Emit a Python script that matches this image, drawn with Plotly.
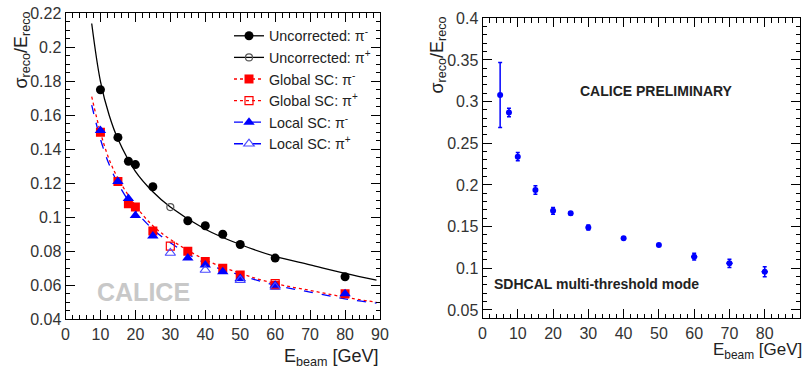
import plotly.graph_objects as go

# ---------------- Left panel data ----------------
unc_m_E = [10, 15, 18, 20, 25, 35, 40, 45, 50, 60, 80]
unc_m_R = [0.175, 0.147, 0.133, 0.131, 0.118, 0.098, 0.095, 0.090, 0.084, 0.076, 0.065]
unc_p_E = [30]
unc_p_R = [0.106]
glo_m_E = [10, 15, 18, 20, 25, 35, 40, 45, 50, 60, 80]
glo_m_R = [0.150, 0.121, 0.108, 0.106, 0.092, 0.080, 0.074, 0.070, 0.066, 0.060, 0.055]
glo_p_E = [30, 60]
glo_p_R = [0.083, 0.061]
loc_m_E = [10, 15, 18, 20, 25, 35, 40, 45, 50, 60, 80]
loc_m_R = [0.151, 0.121, 0.111, 0.101, 0.089, 0.076, 0.072, 0.068, 0.064, 0.060, 0.055]
loc_p_E = [30, 40, 50, 60]
loc_p_R = [0.079, 0.069, 0.063, 0.059]

fit_E = [7.5, 10, 12.5, 15, 20, 25, 30, 40, 50, 60, 70, 80, 89]
fit_unc = [0.214, 0.180, 0.160, 0.146, 0.127, 0.115, 0.106, 0.093, 0.084, 0.077, 0.072, 0.067, 0.063]
fit_glo = [0.171, 0.150, 0.134, 0.123, 0.107, 0.095, 0.087, 0.075, 0.067, 0.061, 0.057, 0.053, 0.050]
fit_loc = [0.166, 0.146, 0.131, 0.120, 0.104, 0.093, 0.085, 0.073, 0.066, 0.060, 0.056, 0.052, 0.0495]

legend_names = ["Uncorrected: π<sup>-</sup>", "Uncorrected: π<sup>+</sup>",
                "Global SC: π<sup>-</sup>", "Global SC: π<sup>+</sup>",
                "Local SC: π<sup>-</sup>", "Local SC: π<sup>+</sup>"]

# ---------------- Right panel data ----------------
sd_E = [5, 7.5, 10, 15, 20, 25, 30, 40, 50, 60, 70, 80]
sd_R = [0.308, 0.287, 0.234, 0.194, 0.169, 0.166, 0.149, 0.136, 0.128, 0.114, 0.106, 0.096]
sd_err = [0.039, 0.005, 0.005, 0.005, 0.004, 0.002, 0.003, 0.001, 0.001, 0.004, 0.005, 0.006]
sd_xerr = [0, 0, 0, 0, 0, 0, 0, 0, 0, 0.9, 0.9, 0.9]

FONT = "Liberation Sans Narrow, Arial Narrow, Liberation Sans, Arial"
TXT = "#222222"

series = [
    (unc_m_E, unc_m_R, dict(color="black", width=1.3), dict(symbol="circle", size=9, color="black")),
    (unc_p_E, unc_p_R, dict(color="black", width=1.3), dict(symbol="circle-open", size=7, color="#555555", line=dict(width=1.2))),
    (glo_m_E, glo_m_R, dict(color="red", width=1.3, dash="dot"), dict(symbol="square", size=9, color="red")),
    (glo_p_E, glo_p_R, dict(color="red", width=1.3, dash="dot"), dict(symbol="square-open", size=8, color="red", line=dict(width=1.2))),
    (loc_m_E, loc_m_R, dict(color="blue", width=1.3, dash="dash"), dict(symbol="triangle-up", size=10, color="blue")),
    (loc_p_E, loc_p_R, dict(color="blue", width=1.3, dash="dash"), dict(symbol="triangle-up-open", size=9, color="#4a4aff", line=dict(width=1.2))),
]

fig = go.Figure()

# fit curves
fig.add_trace(go.Scatter(x=fit_E, y=fit_unc, mode="lines", line=dict(color="black", width=1.3, shape="spline"),
                         showlegend=False, xaxis="x", yaxis="y"))
fig.add_trace(go.Scatter(x=fit_E, y=fit_glo, mode="lines", line=dict(color="red", width=1.3, dash="dot", shape="spline"),
                         showlegend=False, xaxis="x", yaxis="y"))
fig.add_trace(go.Scatter(x=fit_E, y=fit_loc, mode="lines", line=dict(color="blue", width=1.3, dash="dash", shape="spline"),
                         showlegend=False, xaxis="x", yaxis="y"))

# markers on plot
for xs, ys, ln, mk in series:
    fig.add_trace(go.Scatter(x=xs, y=ys, mode="markers", marker=mk, showlegend=False, xaxis="x", yaxis="y"))

# legend entries (line + marker sample)
for name, (xs, ys, ln, mk) in zip(legend_names, series):
    fig.add_trace(go.Scatter(x=[None], y=[None], mode="lines+markers", name=name, line=ln, marker=mk,
                             xaxis="x", yaxis="y"))

# right panel
fig.add_trace(go.Scatter(x=sd_E, y=sd_R, mode="markers", showlegend=False, xaxis="x2", yaxis="y2",
                         marker=dict(symbol="circle", size=6, color="blue"),
                         error_y=dict(type="data", array=sd_err, color="blue", thickness=1.5, width=2),
                         error_x=dict(type="data", array=sd_xerr, color="blue", thickness=1.5, width=0)))

axis_common = dict(showline=True, linecolor="black", linewidth=1, mirror="ticks", ticks="inside",
                   ticklen=9, tickcolor="black", tickwidth=1, showgrid=False, zeroline=False,
                   automargin=False,
                   tickfont=dict(family=FONT, size=16, color="#333333"))

fig.update_layout(
    width=804, height=374, margin=dict(l=0, r=0, t=0, b=0, autoexpand=False),
    paper_bgcolor="white", plot_bgcolor="white",
    font=dict(family=FONT),
    xaxis=dict(domain=[65.5/804, 380/804], range=[0, 90], dtick=10, tick0=0,
               minor=dict(dtick=2, ticks="inside", ticklen=4.5, tickcolor="black", showgrid=False),
               anchor="y", **axis_common),
    yaxis=dict(domain=[1-319.3/374, 1-13.3/374], range=[0.04, 0.22], dtick=0.02, tick0=0,
               tickformat="~g",
               minor=dict(dtick=0.005, ticks="inside", ticklen=4.5, tickcolor="black", showgrid=False),
               anchor="x", **axis_common),
    xaxis2=dict(domain=[482.5/804, 800/804], range=[0, 90], dtick=10, tick0=0,
                minor=dict(dtick=2, ticks="inside", ticklen=4.5, tickcolor="black", showgrid=False),
                anchor="y2", **axis_common),
    yaxis2=dict(domain=[1-318.3/374, 1-18.3/374], range=[0.04, 0.40], dtick=0.05, tick0=0,
                tickformat="~g",
                minor=dict(dtick=0.01, ticks="inside", ticklen=4.5, tickcolor="black", showgrid=False),
                anchor="x2", **axis_common),
    legend=dict(x=229/804, y=1-20/374, xanchor="left", yanchor="top", bgcolor="rgba(0,0,0,0)",
                font=dict(family=FONT, size=14.3, color=TXT), itemwidth=30, tracegroupgap=0,
                borderwidth=0),
    annotations=[
        dict(text="σ<sub>reco</sub>/E<sub>reco</sub>", xref="paper", yref="paper", x=22/804, y=1-10/374,
             xanchor="center", yanchor="top", textangle=-90, showarrow=False,
             font=dict(family=FONT, size=18, color=TXT)),
        dict(text="E<sub>beam</sub> [GeV]", xref="paper", yref="paper", x=381/804, y=1-357/374,
             xanchor="right", yanchor="middle", showarrow=False,
             font=dict(family=FONT, size=18, color=TXT)),
        dict(text="σ<sub>reco</sub>/E<sub>reco</sub>", xref="paper", yref="paper", x=438/804, y=1-15/374,
             xanchor="center", yanchor="top", textangle=-90, showarrow=False,
             font=dict(family=FONT, size=18, color=TXT)),
        dict(text="E<sub>beam</sub> [GeV]", xref="paper", yref="paper", x=804/804, y=1-351/374,
             xanchor="right", yanchor="middle", showarrow=False,
             font=dict(family=FONT, size=17, color=TXT)),
        dict(text="<b>CALICE</b>", xref="paper", yref="paper", x=143/804, y=1-292/374,
             xanchor="center", yanchor="middle", showarrow=False,
             font=dict(family=FONT, size=25, color="#c8c8c8")),
        dict(text="<b>CALICE PRELIMINARY</b>", xref="paper", yref="paper", x=656/804, y=1-91.5/374,
             xanchor="center", yanchor="middle", showarrow=False,
             font=dict(family=FONT, size=14, color=TXT)),
        dict(text="<b>SDHCAL multi-threshold mode</b>", xref="paper", yref="paper", x=596.5/804, y=1-284/374,
             xanchor="center", yanchor="middle", showarrow=False,
             font=dict(family=FONT, size=14, color=TXT)),
    ],
)

fig.write_html("out.html")
